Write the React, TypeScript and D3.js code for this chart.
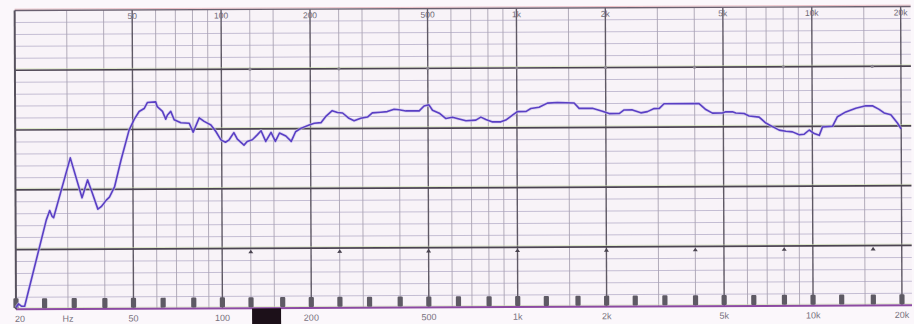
import React from "react";
import * as d3 from "d3";

// Frequency response trace (Hz, dB relative to chart bottom)
const freqs = [
  20, 20.4, 20.9, 21.4, 25.4, 26.1, 26.6, 26.9, 30.7, 33.6, 35.1, 36.4, 38.0, 39.0, 40.6, 41.6, 43.3,
  45.6, 48.6, 50.6, 52.6, 54.7, 56.1, 59.9, 60.6, 63.1, 64.7, 65.6, 67.3, 69.1, 72.8, 77.7, 80.1, 84,
  87.3, 92, 95.6, 99.4, 103, 106, 110, 113, 119, 122, 127, 132, 136, 141, 147, 152, 157, 165, 172, 178,
  186, 198, 206, 217, 225, 237, 247, 257, 270, 281, 296, 312, 324, 346, 364, 384, 399, 421, 467, 485,
  504, 518, 546, 575, 605, 637, 672, 726, 755, 785, 827, 882, 917, 966, 1004, 1072, 1115, 1189, 1269,
  1372, 1563, 1625, 1802, 1948, 2052, 2220, 2307, 2462, 2629, 2768, 2916, 3031, 3151, 4140, 4364, 4594,
  4966, 5098, 5369, 5512, 5880, 6113, 6609, 6965, 7333, 7726, 8141, 8570, 9030, 9390, 9764, 10152,
  10554, 10830, 11706, 12172, 12996, 14048, 15190, 15990, 16850, 17518, 18460, 19428, 20000,
];
const levels = [
  0.3, 0.9, 0.5, 0.5, 14.9, 16.5, 15.5, 15.3, 25.3, 18.6, 21.6, 19.4, 16.7, 17.1, 18.2, 18.7, 20.4,
  24.9, 29.9, 31.7, 33.0, 33.5, 34.5, 34.6, 33.8, 33.0, 31.7, 32.4, 33.0, 31.6, 31.1, 31.0, 29.5, 31.9,
  31.3, 30.7, 29.6, 28.2, 27.8, 28.2, 29.4, 28.3, 27.3, 27.9, 28.2, 29.0, 29.7, 27.9, 29.4, 27.9, 29.3,
  28.8, 27.9, 29.5, 30.1, 30.6, 30.9, 31.0, 32.0, 33.0, 32.7, 32.6, 31.7, 31.3, 31.7, 31.9, 32.6, 32.7,
  32.8, 33.2, 33.1, 32.9, 32.9, 33.7, 33.9, 33.0, 32.5, 31.6, 31.8, 31.5, 31.2, 31.3, 31.8, 31.4, 31.0,
  31.0, 31.3, 32.1, 32.7, 32.7, 33.2, 33.4, 34.1, 34.2, 34.1, 33.2, 33.2, 32.7, 32.3, 32.3, 32.9, 32.9,
  32.4, 32.6, 33.1, 33.1, 33.9, 33.9, 32.9, 32.3, 32.3, 32.5, 32.5, 32.3, 32.2, 31.8, 31.6, 30.6, 30.0,
  29.4, 29.2, 29.1, 28.6, 28.7, 29.4, 28.8, 28.5, 29.9, 30.0, 31.6, 32.4, 33.0, 33.4, 33.4, 32.8, 32.2,
  31.9, 30.5, 29.5,
];

const majorFreqs = [50, 100, 200, 500, 1000, 2000, 5000, 10000, 20000];
const minorFreqs = [
  30, 40, 60, 70, 80, 90, 125, 150, 250, 300, 400, 600, 700, 800, 900, 1500, 3000, 4000, 6000, 7000,
  8000, 9000, 15000,
];
const bandFreqs = [
  20, 25, 31.5, 40, 50, 63, 80, 100, 125, 160, 200, 250, 315, 400, 500, 630, 800, 1000, 1250, 1600,
  2000, 2500, 3150, 4000, 5000, 6300, 8000, 10000, 12500, 16000, 20000,
];
const octaveMarks = [125, 250, 500, 1000, 2000, 4000, 8000, 16000];
const topTickFreqs = [50, 100, 200, 500, 1000, 2000, 5000, 10000, 20000];
const topTickLabels = ["50", "100", "200", "500", "1k", "2k", "5k", "10k", "20k"];
const bottomTickFreqs = [30, 50, 100, 200, 500, 1000, 2000, 5000, 10000, 20000];
const bottomTickLabels = ["Hz", "50", "100", "200", "500", "1k", "2k", "5k", "10k", "20k"];
const minorDb = [2, 4, 6, 8, 12, 14, 16, 18, 22, 24, 26, 28, 32, 34, 36, 38, 42, 44, 46, 48];
const majorDb = [10, 20, 30, 40];

const W = 914;
const H = 324;
const X0 = 16;
const X1 = 902;
const XR = 912;

export default function App() {
  const x = d3.scaleLog().domain([20, 20000]).range([X0, X1]);
  const y = d3.scaleLinear().domain([0, 50]).range([309.3, 10.5]);
  const pts = freqs.map((f, i) => [f, levels[i]] as [number, number]);
  const line = d3
    .line<[number, number]>()
    .x((d) => x(d[0]))
    .y((d) => y(d[1]));
  const font = "'Liberation Sans', Arial, sans-serif";

  return (
    <svg
      width={W}
      height={H}
      style={{ position: "absolute", left: 0, top: 0, background: "#fbf7fb" }}
    >
      <rect x={0} y={0} width={W} height={H} fill="#fbf7fb" />
      <g transform={`rotate(-0.26 ${X0} 309)`}>
        <rect x={X0} y={y(50)} width={XR - X0} height={y(0) - y(50)} fill="#f8f3f8" />
        {minorDb.map((v) => (
          <line key={"mh" + v} x1={X0} x2={XR} y1={y(v)} y2={y(v)} stroke="#c4bdd3" strokeWidth={1} />
        ))}
        {minorFreqs.map((f) => (
          <line key={"mv" + f} x1={x(f)} x2={x(f)} y1={y(50)} y2={y(0)} stroke="#a9a3b2" strokeWidth={0.9} />
        ))}
        {majorFreqs.map((f) => (
          <line key={"Mv" + f} x1={x(f)} x2={x(f)} y1={y(50)} y2={y(0)} stroke="#5f5965" strokeWidth={1.4} />
        ))}
        {majorDb.map((v) => (
          <g key={"Mh" + v}>
            <line x1={X0} x2={XR} y1={y(v) - 1.4} y2={y(v) - 1.4} stroke="#c9e0a6" strokeWidth={0.8} opacity={0.7} />
            <line x1={X0} x2={XR} y1={y(v)} y2={y(v)} stroke="#4c4452" strokeWidth={1.7} />
          </g>
        ))}
        <line x1={X0} x2={XR} y1={y(50) - 1.3} y2={y(50) - 1.3} stroke="#e6b0b6" strokeWidth={0.8} />
        <line x1={X0} x2={XR} y1={y(50)} y2={y(50)} stroke="#6a6070" strokeWidth={1.4} />
        <line x1={X0} x2={XR} y1={y(0) - 1.5} y2={y(0) - 1.5} stroke="#c9e0a6" strokeWidth={0.8} opacity={0.7} />
        <line x1={X0} x2={XR} y1={y(0)} y2={y(0)} stroke="#8c4aa2" strokeWidth={2} />
        <line x1={X0} x2={X0} y1={y(50)} y2={y(0)} stroke="#57525e" strokeWidth={2} />
        {bandFreqs.map((f) => (
          <rect
            key={"b" + f}
            x={x(f) - 2.6}
            y={y(0) - 11}
            width={5.2}
            height={10}
            rx={1}
            fill="#5e5a64"
          />
        ))}
        {octaveMarks.map((f) => (
          <g key={"o" + f}>
            <circle cx={x(f)} cy={y(40)} r={1.6} fill="#8a8490" />
            <path
              d={`M${x(f)},${y(10) + 1.2} L${x(f) - 2.5},${y(10) + 4.8} L${x(f) + 2.5},${y(10) + 4.8} Z`}
              fill="#4a4450"
            />
          </g>
        ))}
        <path
          d={line(pts) || ""}
          fill="none"
          stroke="#cfc6ee"
          strokeWidth={3.2}
          strokeLinejoin="round"
          opacity={0.6}
        />
        <path
          d={line(pts) || ""}
          fill="none"
          stroke="#5a3fc4"
          strokeWidth={1.6}
          strokeLinejoin="round"
        />
        {topTickFreqs.map((f, i) => (
          <text
            key={"tl" + f}
            x={x(f)}
            y={19.5}
            textAnchor="middle"
            fontFamily={font}
            fontSize={8.5}
            fill="#6e6874"
          >
            {topTickLabels[i]}
          </text>
        ))}
        <text x={X0 - 1} y={322} fontFamily={font} fontSize={9} fill="#77717d">
          20
        </text>
        {bottomTickFreqs.map((f, i) => (
          <text
            key={"bl" + f}
            x={x(f)}
            y={322}
            textAnchor="middle"
            fontFamily={font}
            fontSize={9}
            fill="#77717d"
          >
            {bottomTickLabels[i]}
          </text>
        ))}
        <rect x={x(125) + 1} y={309.5} width={29} height={16} fill="#1c1019" />
      </g>
    </svg>
  );
}
